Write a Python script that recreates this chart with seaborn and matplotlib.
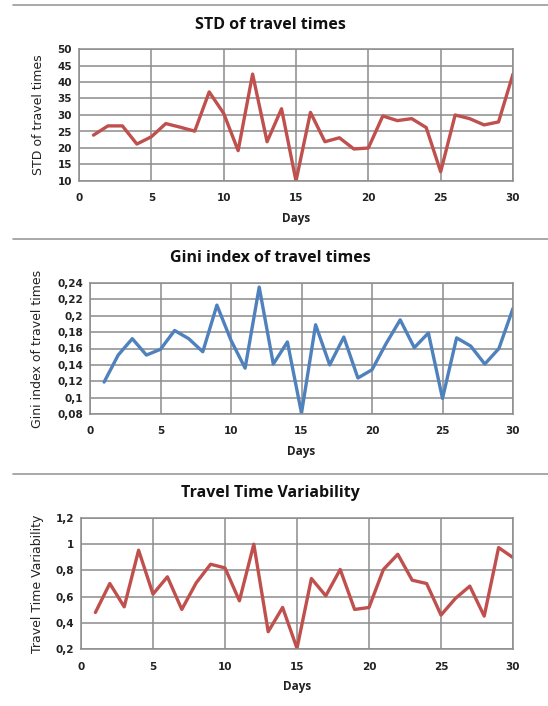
import pandas as pd
import matplotlib
matplotlib.use("Agg")
import matplotlib.pyplot as plt
from matplotlib.ticker import FuncFormatter, MultipleLocator
from matplotlib.lines import Line2D
import seaborn as sns

# values
days = list(range(1, 31))
std_values = [23.9, 26.7, 26.7, 21.2, 23.4, 27.4, 26.3, 25.1, 37.0, 30.5,
              19.2, 42.4, 21.9, 31.9, 10.0, 30.8, 21.9, 23.1, 19.7, 20.0,
              29.7, 28.3, 28.9, 26.2, 12.8, 30.0, 28.9, 27.0, 27.9, 42.4]
gini_values = [0.119, 0.152, 0.172, 0.152, 0.159, 0.182, 0.172, 0.156, 0.213, 0.170,
               0.136, 0.235, 0.141, 0.168, 0.081, 0.189, 0.140, 0.174, 0.124, 0.134,
               0.166, 0.195, 0.161, 0.179, 0.099, 0.173, 0.163, 0.141, 0.160, 0.209]
ttv_values = [0.479, 0.700, 0.522, 0.954, 0.619, 0.751, 0.502, 0.705, 0.847, 0.819,
              0.568, 1.000, 0.332, 0.517, 0.205, 0.738, 0.606, 0.807, 0.502, 0.517,
              0.807, 0.923, 0.725, 0.700, 0.459, 0.586, 0.680, 0.451, 0.974, 0.898]

df = pd.DataFrame({"Days": days, "std": std_values, "gini": gini_values, "ttv": ttv_values})

sns.set_style("white")
plt.rcParams["font.family"] = ["DejaVu Sans"]

W, H = 548, 706
fig = plt.figure(figsize=(W / 100, H / 100), dpi=100)

RED = "#C0504D"
BLUE = "#4F81BD"
GRID = "#8C8C8C"


def comma(v, pos):
    s = ("%.2f" % v).rstrip("0").rstrip(".")
    return s.replace(".", ",")


def box(left, top, right, bottom):
    return [left / W, 1 - bottom / H, (right - left) / W, (bottom - top) / H]


panels = [
    dict(col="std", color=RED, title="STD of travel times", ylabel="STD of travel times",
         rect=box(79, 49, 513, 181), ylim=(10, 50), step=5, fmt=None,
         title_y=25, sep=5),
    dict(col="gini", color=BLUE, title="Gini index of travel times",
         ylabel="Gini index of travel times",
         rect=box(90, 283, 513, 414), ylim=(0.08, 0.24), step=0.02, fmt=comma,
         title_y=258, sep=239),
    dict(col="ttv", color=RED, title="Travel Time Variability", ylabel="Travel Time Variability",
         rect=box(81, 518, 513, 649), ylim=(0.2, 1.2), step=0.2, fmt=comma,
         title_y=493, sep=474),
]

for p in panels:
    ax = fig.add_axes(p["rect"])
    sns.lineplot(data=df, x="Days", y=p["col"], ax=ax, color=p["color"], linewidth=2.4)
    ax.set_xlim(0, 30)
    ax.set_ylim(*p["ylim"])
    ax.xaxis.set_major_locator(MultipleLocator(5))
    ax.yaxis.set_major_locator(MultipleLocator(p["step"]))
    if p["fmt"]:
        ax.yaxis.set_major_formatter(FuncFormatter(p["fmt"]))
    ax.grid(True, color=GRID, linewidth=1.1)
    ax.set_axisbelow(True)
    for s in ax.spines.values():
        s.set_color(GRID)
        s.set_linewidth(1.1)
    ax.tick_params(axis="both", length=0, labelsize=7.5, colors="#222222", pad=5)
    ax.tick_params(axis="x", pad=9)
    for t in ax.get_xticklabels() + ax.get_yticklabels():
        t.set_fontweight("bold")
    ax.set_xlabel("Days", fontsize=8.5, fontweight="bold", color="#222222", labelpad=6,
                  family=["Open Sans", "DejaVu Sans"])
    ax.set_ylabel("")

    # y label, title and separator line placed in figure coordinates
    fig.text(38 / W, p["rect"][1] + p["rect"][3] / 2, p["ylabel"], rotation=90,
             ha="center", va="center", fontsize=9, color="#222222",
             family=["Liberation Sans Narrow", "DejaVu Sans"])
    fig.text(270 / W, 1 - p["title_y"] / H, p["title"], ha="center", va="center",
             fontsize=11.5, fontweight="bold", color="#111111",
             family=["Open Sans", "DejaVu Sans"])
    fig.add_artist(Line2D([13 / W, 1.0], [1 - p["sep"] / H] * 2, color="#9A9A9A",
                          linewidth=1.2, transform=fig.transFigure))

fig.savefig("out.png", dpi=100, facecolor="white")
